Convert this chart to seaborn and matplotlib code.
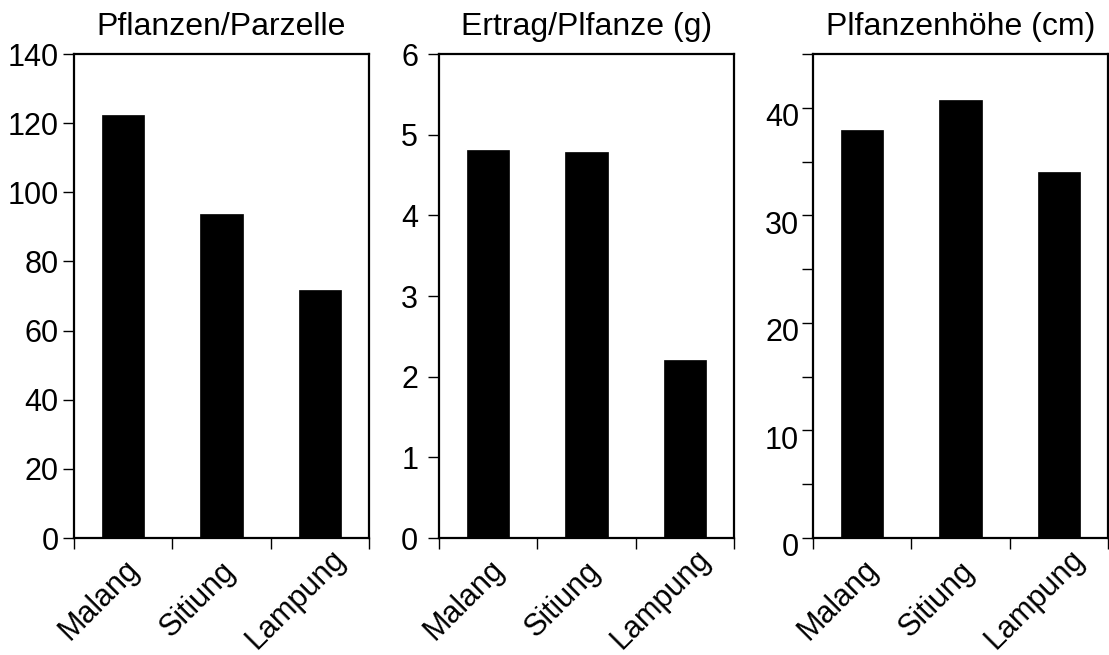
import matplotlib
matplotlib.use("Agg")
import matplotlib.pyplot as plt
import matplotlib.transforms as mtransforms
import seaborn as sns
import pandas as pd
from matplotlib.ticker import FixedLocator, NullFormatter

sns.set_theme(style="white")
plt.rcParams['font.family'] = ['Liberation Sans', 'DejaVu Sans']

sites = ["Malang", "Sitiung", "Lampung"]
plants_per_plot = [122.3, 93.7, 71.6]
yield_per_plant = [4.81, 4.79, 2.21]
plant_height = [37.95, 40.7, 34.0]

titles = ["Pflanzen/Parzelle", "Ertrag/Plfanze (g)", "Plfanzenhöhe (cm)"]
ylims = [(0, 140), (0, 6), (0, 45)]
yticks = [[0, 20, 40, 60, 80, 100, 120, 140], [0, 1, 2, 3, 4, 5, 6], [0, 10, 20, 30, 40]]
ypads = [3, 7, 2]

fig = plt.figure(figsize=(11.09, 6.55), dpi=100)
W, H = 1109, 655
lefts = [74, 439, 813]
width_px = 295
top_px, bottom_px = 54, 538

series = [plants_per_plot, yield_per_plant, plant_height]
for i, vals in enumerate(series):
    ax = fig.add_axes([lefts[i] / W, (H - bottom_px) / H, width_px / W, (bottom_px - top_px) / H])
    df = pd.DataFrame({"site": sites, "value": vals})
    sns.barplot(data=df, x="site", y="value", ax=ax, color="black", width=0.43,
                saturation=1, edgecolor="black", linewidth=0.5, order=sites)
    ax.set_xlim(-0.5, 2.5)
    ax.set_ylim(*ylims[i])
    ax.set_xlabel("")
    ax.set_ylabel("")
    ax.set_title(titles[i], fontsize=23, pad=14, color="black")
    ax.xaxis.set_major_locator(FixedLocator([0, 1, 2]))
    ax.set_xticklabels(sites)
    ax.xaxis.set_minor_locator(FixedLocator([-0.5, 0.5, 1.5, 2.5]))
    ax.tick_params(axis="x", which="major", length=0, labelsize=22, pad=44.5, colors="black")
    ax.tick_params(axis="x", which="minor", length=8, width=1, direction="out", bottom=True, colors="black")
    xoff = mtransforms.ScaledTranslation(-24 / 100, 0, fig.dpi_scale_trans)
    for lab in ax.get_xticklabels():
        lab.set_rotation(45)
        lab.set_ha("center")
        lab.set_va("center")
        lab.set_rotation_mode("anchor")
        lab.set_transform(lab.get_transform() + xoff)
    ax.set_yticks(yticks[i])
    ax.set_yticklabels([str(t) for t in yticks[i]])
    ax.tick_params(axis="y", which="major", length=8, width=1, direction="out", left=True,
                   labelsize=22, pad=ypads[i], colors="black")
    if i == 2:
        ax.yaxis.set_minor_locator(FixedLocator([5, 15, 25, 35, 45]))
        ax.yaxis.set_minor_formatter(NullFormatter())
        ax.tick_params(axis="y", which="minor", length=8, width=1, direction="out", left=True, colors="black")
        off = mtransforms.ScaledTranslation(0, -7 / 100, fig.dpi_scale_trans)
        for lab in ax.get_yticklabels():
            lab.set_transform(lab.get_transform() + off)
    for side, sp in ax.spines.items():
        sp.set_color("black")
        sp.set_linewidth(1.6)
        sp.set_visible(True)
    ax.grid(False)

fig.savefig("out.png", dpi=100, facecolor="white")
